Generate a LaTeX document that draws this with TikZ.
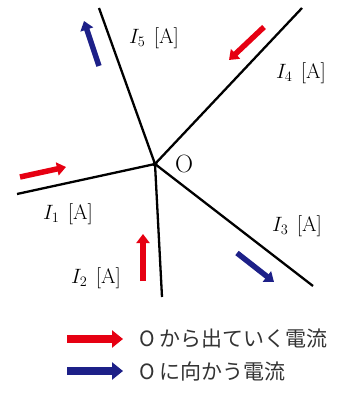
\documentclass[tikz,border=0pt]{standalone}
\usepackage{fontspec}
\usepackage{tikz}
\usetikzlibrary{arrows.meta, positioning}
\newfontfamily\jpfont{Noto Sans CJK JP}
\definecolor{curRed}{HTML}{E60012}
\definecolor{curBlue}{HTML}{1D2088}
\definecolor{legGray}{HTML}{333333}

\begin{document}
\begin{tikzpicture}[
  x=1pt, y=-1pt,
  wire/.style={line width=2.3pt, black},
  flow/.style={-{Triangle[length=9pt, width=13pt]}, line width=5.5pt, color=#1},
  legflow/.style={-{Triangle[length=11pt, width=17pt]}, line width=8.5pt, color=#1},
  curlab/.style={font=\fontsize{21}{24}\selectfont, inner sep=0pt},
  legtext/.style={font=\fontsize{21}{24}\selectfont\jpfont\color{legGray}, anchor=west, inner sep=0pt},
]
\useasboundingbox (0,0) rectangle (345,398);

% Junction and wire ends
\coordinate (O) at (155,164);
\coordinate (w1) at (17,194);
\coordinate (w2) at (162,297);
\coordinate (w3) at (313,286);
\coordinate (w4) at (302,8);
\coordinate (w5) at (99,8);

% Wires
\draw[wire] (O) -- (w1);
\draw[wire] (O) -- (w2);
\draw[wire] (O) -- (w3);
\draw[wire] (O) -- (w4);
\draw[wire] (O) -- (w5);
\fill (O) circle (2.5pt);

% Current arrows
\coordinate (a1s) at (20,177);  \coordinate (a1e) at (66,167);
\coordinate (a2s) at (143,281); \coordinate (a2e) at (143,234);
\coordinate (a3s) at (237,253); \coordinate (a3e) at (274,282);
\coordinate (a4s) at (264,27);  \coordinate (a4e) at (229,60);
\coordinate (a5s) at (99,66);   \coordinate (a5e) at (84,21);
\draw[flow=curRed] (a1s) -- (a1e);
\draw[flow=curRed] (a2s) -- (a2e);
\draw[flow=curBlue] (a3s) -- (a3e);
\draw[flow=curRed] (a4s) -- (a4e);
\draw[flow=curBlue] (a5s) -- (a5e);

% Labels
\node[curlab, font=\fontsize{25}{28}\selectfont] (lO) at (184,164) {O};
\node[curlab] (l1) at (68,214) {$I_1$\hspace{0.4em}[A]};
\node[curlab] (l2) at (96,278) {$I_2$\hspace{0.4em}[A]};
\node[curlab] (l3) at (297,226) {$I_3$\hspace{0.4em}[A]};
\node[curlab] (l4) at (301,73) {$I_4$\hspace{0.4em}[A]};
\node[curlab] (l5) at (154,38) {$I_5$\hspace{0.4em}[A]};

% Legend
\coordinate (r1s) at (67,339);  \coordinate (r1e) at (123,339);
\coordinate (b1s) at (67,371);  \coordinate (b1e) at (123,371);
\draw[legflow=curRed] (r1s) -- (r1e);
\draw[legflow=curBlue] (b1s) -- (b1e);
\node[legtext] (tout) at (139,339) {O から出ていく電流};
\node[legtext] (tin) at (139,371) {O に向かう電流};

\end{tikzpicture}
\end{document}
